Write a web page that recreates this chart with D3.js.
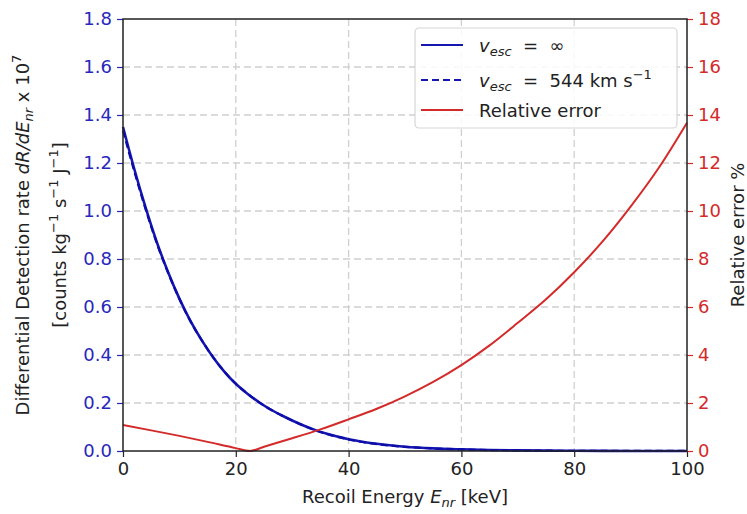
<!DOCTYPE html>
<html>
<head>
<meta charset="utf-8">
<script src="https://cdn.jsdelivr.net/npm/d3@7"></script>
<style>
  body { margin: 0; background: #fff; }
  text { font-family: "DejaVu Sans", sans-serif; }
</style>
</head>
<body>
<svg id="chart" width="747" height="514"></svg>
<script>
// recoil energy grid (keV) for the rate curves
var energy = [0, 2, 4, 6, 8, 10, 12, 14, 16, 18, 20, 22, 24, 26, 28, 30, 32, 34, 36, 38, 40,
              45, 50, 55, 60, 65, 70, 75, 80, 85, 90, 95, 100];
// dR/dE x 1e7, v_esc = infinity
var rateInf = [1.35, 1.175, 1.015, 0.87, 0.745, 0.635, 0.54, 0.46, 0.39, 0.33, 0.28, 0.24, 0.205, 0.175, 0.15, 0.127, 0.106, 0.088, 0.073, 0.06, 0.049,
               0.03, 0.018, 0.011, 0.007, 0.004, 0.0025, 0.0015, 0.0009, 0.0005, 0.0003, 0.0002, 0.0001];
// dR/dE x 1e7, v_esc = 544 km/s
var rate544 = [1.335, 1.165, 1.008, 0.865, 0.742, 0.633, 0.539, 0.46, 0.39, 0.33, 0.28, 0.24, 0.205, 0.175, 0.15, 0.127, 0.106, 0.087, 0.072, 0.059, 0.048,
               0.029, 0.0175, 0.0107, 0.0067, 0.0038, 0.0023, 0.0014, 0.0008, 0.0004, 0.0003, 0.0002, 0.0001];
// relative error (%)
var errEnergy = [0, 5, 10, 15, 20, 22.5, 25, 30, 35, 40, 45, 50, 55, 60, 65, 70, 75, 80, 85, 90, 95, 100];
var relErr = [1.08, 0.86, 0.63, 0.38, 0.12, 0.0, 0.18, 0.53, 0.9, 1.32, 1.76, 2.28, 2.88, 3.58, 4.4, 5.34, 6.32, 7.45, 8.72, 10.18, 11.8, 13.68];

var xTicks = [0, 20, 40, 60, 80, 100];
var yTicks = [0, 0.2, 0.4, 0.6, 0.8, 1.0, 1.2, 1.4, 1.6, 1.8];
var y2Ticks = [0, 2, 4, 6, 8, 10, 12, 14, 16, 18];

var blue = '#1616b0';
var blueText = '#2828bc';
var red = '#d42a2a';

var svg = d3.select('#chart');
var margin = {t: 19, r: 60, b: 63, l: 123};
var width = 747 - margin.l - margin.r;
var height = 514 - margin.t - margin.b;

var g = svg.append('g').attr('transform', 'translate(' + margin.l + ',' + margin.t + ')');

var xScale = d3.scaleLinear().domain([0, 100]).range([0, width]);
var yScale = d3.scaleLinear().domain([0, 1.8]).range([height, 0]);
var y2Scale = d3.scaleLinear().domain([0, 18]).range([height, 0]);

// grid
g.append('g').selectAll('line.vg')
  .data(xTicks.slice(1, -1)).enter().append('line')
  .attr('x1', d => xScale(d)).attr('x2', d => xScale(d))
  .attr('y1', 0).attr('y2', height)
  .attr('stroke', '#d0d0d0').attr('stroke-width', 1.3).attr('stroke-dasharray', '7,4');
g.append('g').selectAll('line.hg')
  .data(yTicks.slice(1, -1)).enter().append('line')
  .attr('y1', d => yScale(d)).attr('y2', d => yScale(d))
  .attr('x1', 0).attr('x2', width)
  .attr('stroke', '#d0d0d0').attr('stroke-width', 1.3).attr('stroke-dasharray', '7,4');

// axes
var xAxis = g.append('g').attr('transform', 'translate(0,' + height + ')')
  .call(d3.axisBottom(xScale).tickValues(xTicks).tickFormat(d3.format('d')).tickSize(6).tickPadding(5));
xAxis.selectAll('text').attr('font-size', 18).attr('fill', '#222');
xAxis.selectAll('line').attr('stroke', '#222').attr('stroke-width', 1.2);

var yAxis = g.append('g')
  .call(d3.axisLeft(yScale).tickValues(yTicks).tickFormat(d3.format('.1f')).tickSize(6).tickPadding(5));
yAxis.selectAll('text').attr('font-size', 18).attr('fill', blueText);
yAxis.selectAll('line').attr('stroke', blueText).attr('stroke-width', 1.2);

var y2Axis = g.append('g').attr('transform', 'translate(' + width + ',0)')
  .call(d3.axisRight(y2Scale).tickValues(y2Ticks).tickFormat(d3.format('d')).tickSize(6).tickPadding(5));
y2Axis.selectAll('text').attr('font-size', 18).attr('fill', red);
y2Axis.selectAll('line').attr('stroke', red).attr('stroke-width', 1.2);

[xAxis, yAxis, y2Axis].forEach(function(a) { a.select('.domain').remove(); });

// curves
var lineInf = d3.line()
  .x((d, i) => xScale(energy[i]))
  .y(d => yScale(d))
  .curve(d3.curveMonotoneX);

g.append('path').datum(rateInf)
  .attr('fill', 'none').attr('stroke', blue).attr('stroke-width', 2.6)
  .attr('d', lineInf);
g.append('path').datum(rate544)
  .attr('fill', 'none').attr('stroke', '#0c0ca8').attr('stroke-width', 2.2)
  .attr('stroke-dasharray', '7,4')
  .attr('d', lineInf);

var lineErr = d3.line()
  .x((d, i) => xScale(errEnergy[i]))
  .y(d => y2Scale(d))
  .curve(d3.curveMonotoneX);
g.append('path').datum(relErr)
  .attr('fill', 'none').attr('stroke', red).attr('stroke-width', 2)
  .attr('d', lineErr);

// frame
g.append('rect').attr('x', 0).attr('y', 0).attr('width', width).attr('height', height)
  .attr('fill', 'none').attr('stroke', '#222').attr('stroke-width', 1.5);

// legend
var leg = g.append('g').attr('transform', 'translate(' + (415 - margin.l) + ',' + (28 - margin.t) + ')');
leg.append('rect').attr('width', 262).attr('height', 100).attr('rx', 4)
  .attr('fill', 'white').attr('fill-opacity', 0.85).attr('stroke', '#d6d6d6').attr('stroke-width', 1.2);
var rows = [
  {y: 17, dash: null, color: blue},
  {y: 52, dash: '7,4', color: blue},
  {y: 82, dash: null, color: red}
];
rows.forEach(function(r) {
  leg.append('line').attr('x1', 6).attr('x2', 48).attr('y1', r.y).attr('y2', r.y)
    .attr('stroke', r.color).attr('stroke-width', 2).attr('stroke-dasharray', r.dash);
});
var t1 = leg.append('text').attr('x', 64).attr('y', 24).attr('font-size', 18).attr('fill', '#222');
t1.append('tspan').attr('font-style', 'italic').text('v');
t1.append('tspan').attr('font-style', 'italic').attr('font-size', 13).attr('dy', 4).text('esc');
t1.append('tspan').attr('dy', -4).text('  =  ∞').attr('xml:space', 'preserve');
var t2 = leg.append('text').attr('x', 64).attr('y', 59).attr('font-size', 18).attr('fill', '#222');
t2.append('tspan').attr('font-style', 'italic').text('v');
t2.append('tspan').attr('font-style', 'italic').attr('font-size', 13).attr('dy', 4).text('esc');
t2.append('tspan').attr('dy', -4).text('  =  544 km s').attr('xml:space', 'preserve');
t2.append('tspan').attr('font-size', 13).attr('dy', -8).text('−1');
leg.append('text').attr('x', 64).attr('y', 89).attr('font-size', 18).attr('fill', '#222').text('Relative error');

// axis labels
var xl = svg.append('text').attr('x', margin.l + width / 2).attr('y', 503)
  .attr('text-anchor', 'middle').attr('font-size', 18).attr('fill', '#222');
xl.append('tspan').text('Recoil Energy ');
xl.append('tspan').attr('font-style', 'italic').text('E');
xl.append('tspan').attr('font-style', 'italic').attr('font-size', 13).attr('dy', 4).text('nr');
xl.append('tspan').attr('dy', -4).text(' [keV]');

var cy = margin.t + height / 2;
var yl1 = svg.append('text').attr('transform', 'translate(29,' + cy + ') rotate(-90)')
  .attr('text-anchor', 'middle').attr('font-size', 18).attr('fill', '#222');
yl1.append('tspan').text('Differential Detection rate ');
yl1.append('tspan').attr('font-style', 'italic').text('dR/dE');
yl1.append('tspan').attr('font-style', 'italic').attr('font-size', 13).attr('dy', 4).text('nr');
yl1.append('tspan').attr('dy', -4).text(' x 10');
yl1.append('tspan').attr('font-size', 13).attr('dy', -8).text('7');

var yl2 = svg.append('text').attr('transform', 'translate(66,' + cy + ') rotate(-90)')
  .attr('text-anchor', 'middle').attr('font-size', 18).attr('fill', '#222');
yl2.append('tspan').text('[counts kg');
yl2.append('tspan').attr('font-size', 13).attr('dy', -8).text('−1');
yl2.append('tspan').attr('dy', 8).text(' s');
yl2.append('tspan').attr('font-size', 13).attr('dy', -8).text('−1');
yl2.append('tspan').attr('dy', 8).text(' J');
yl2.append('tspan').attr('font-size', 13).attr('dy', -8).text('−1');
yl2.append('tspan').attr('dy', 8).text(']');

svg.append('text').attr('transform', 'translate(744,' + cy + ') rotate(-90)')
  .attr('text-anchor', 'middle').attr('font-size', 18).attr('fill', '#222')
  .text('Relative error %');
</script>
</body>
</html>
